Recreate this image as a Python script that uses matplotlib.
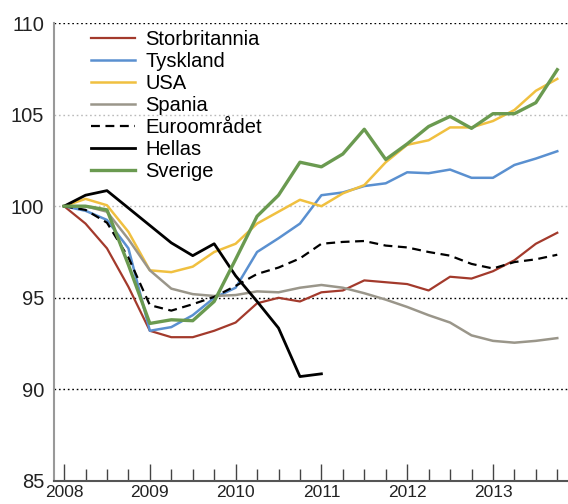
import matplotlib
matplotlib.use('Agg')
import matplotlib.pyplot as plt
import numpy as np

plt.rcParams['font.family'] = ['Liberation Sans', 'DejaVu Sans']

# quarterly index, 2008Q1 = 100
years = ['2008', '2009', '2010', '2011', '2012', '2013']
n_quarters = 24

storbritannia = [100, 99.05, 97.7, 95.6, 93.2, 92.85, 92.85, 93.2, 93.65, 94.7, 95.0, 94.8,
                 95.3, 95.4, 95.95, 95.85, 95.75, 95.4, 96.15, 96.05, 96.45, 97.05, 97.95, 98.55]
tyskland = [100, 99.75, 99.25, 97.7, 93.2, 93.4, 94.05, 95.0, 95.55, 97.5, 98.25, 99.05,
            100.6, 100.75, 101.1, 101.25, 101.85, 101.8, 102.0, 101.55, 101.55, 102.25, 102.6, 103.0]
usa = [100, 100.4, 100.05, 98.6, 96.5, 96.4, 96.7, 97.5, 97.95, 99.05, 99.7, 100.35,
       100.0, 100.7, 101.15, 102.4, 103.35, 103.6, 104.3, 104.3, 104.65, 105.25, 106.3, 106.95]
spania = [100, 100.0, 99.7, 98.2, 96.5, 95.5, 95.2, 95.1, 95.15, 95.35, 95.3, 95.55,
          95.7, 95.55, 95.25, 94.9, 94.5, 94.05, 93.65, 92.95, 92.65, 92.55, 92.65, 92.8]
euro = [100, 99.8, 99.1, 97.2, 94.6, 94.3, 94.65, 95.05, 95.65, 96.3, 96.65, 97.15,
        97.95, 98.05, 98.1, 97.85, 97.75, 97.5, 97.3, 96.85, 96.6, 96.95, 97.1, 97.35]
hellas = [100, 100.6, 100.85, 99.9, 98.95, 98.0, 97.3, 97.95, 96.2, 94.8, 93.35, 90.7, 90.85]
sverige = [100, 100.0, 99.8, 96.8, 93.6, 93.8, 93.75, 94.8, 97.1, 99.45, 100.6, 102.4,
           102.15, 102.85, 104.2, 102.55, 103.4, 104.35, 104.9, 104.25, 105.05, 105.05, 105.65, 107.45]

q = np.arange(n_quarters)

fig = plt.figure(figsize=(5.68, 5.04), dpi=100)
ax = fig.add_axes([54/568, 23/504, 1 - 54/568, 1 - 46/504])

# gridlines (dotted)
for v, c in [(110, 'black'), (105, '#bbbbbb'), (100, '#bbbbbb'), (95, 'black'), (90, 'black')]:
    ax.axhline(v, color=c, lw=1.0, ls=(0, (1.2, 2)), zorder=1)

ax.plot(q, storbritannia, color='#a33a2c', lw=1.6, label='Storbritannia')
ax.plot(q, tyskland, color='#5a90d0', lw=1.8, label='Tyskland')
ax.plot(q, usa, color='#f0c040', lw=1.8, label='USA')
ax.plot(q, spania, color='#9a968a', lw=1.8, label='Spania')
ax.plot(q, euro, color='black', lw=1.6, ls=(0, (4, 2.5)), label='Euroområdet')
ax.plot(q[:len(hellas)], hellas, color='black', lw=2.0, label='Hellas')
ax.plot(q, sverige, color='#6a9a50', lw=2.4, label='Sverige')

ax.set_xlim(-0.47, 23.5)
ax.set_ylim(85, 110)
ax.set_yticks([85, 90, 95, 100, 105, 110])
ax.tick_params(axis='y', length=0, pad=7, labelsize=14.5, labelcolor='#222222')

ax.set_xticks(q[::4])
ax.set_xticklabels(years)
ax.set_xticks(q, minor=True)
ax.tick_params(axis='x', which='major', direction='in', length=12, width=1, color='#444444',
               labelsize=12.5, pad=3, labelcolor='#222222')
ax.tick_params(axis='x', which='minor', direction='in', length=8.5, width=1, color='#444444')

for s in ['top', 'right']:
    ax.spines[s].set_visible(False)
ax.spines['left'].set_color('#999999')
ax.spines['left'].set_linewidth(1.5)
ax.spines['bottom'].set_color('#555555')
ax.spines['bottom'].set_linewidth(1.5)

ax.legend(loc='upper left', bbox_to_anchor=(91/568, 1 - 30/504), bbox_transform=fig.transFigure,
          frameon=False, fontsize=14.5, handlelength=2.2, handletextpad=0.5,
          labelspacing=0.15, borderpad=0, borderaxespad=0)

plt.savefig('out.png', dpi=100)
